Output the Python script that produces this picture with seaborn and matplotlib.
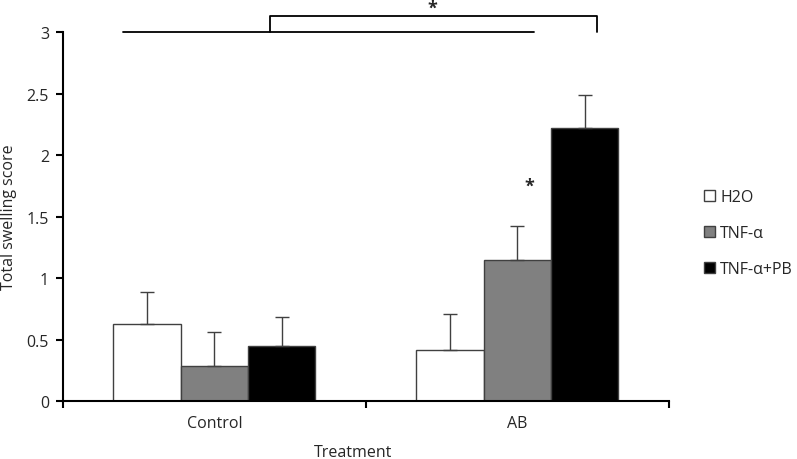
import pandas as pd
import matplotlib.pyplot as plt
import seaborn as sns

# Data
treatments = ['Control', 'AB']
groups = ['H2O', 'TNF-α', 'TNF-α+PB']
h2o_mean = [0.625, 0.415]
tnf_mean = [0.285, 1.145]
tnfpb_mean = [0.445, 2.22]
h2o_err = [0.26, 0.295]
tnf_err = [0.275, 0.275]
tnfpb_err = [0.24, 0.27]

means = [h2o_mean, tnf_mean, tnfpb_mean]
errs = [h2o_err, tnf_err, tnfpb_err]
rows = []
for g, m_list, e_list in zip(groups, means, errs):
    for t, m, e in zip(treatments, m_list, e_list):
        rows.append({'Treatment': t, 'Group': g, 'Score': m, 'Err': e})
df = pd.DataFrame(rows)

sns.set_style('white')
plt.rcParams['font.family'] = ['Open Sans', 'DejaVu Sans']
FS = 11.5

fig = plt.figure(figsize=(7.97, 4.60), dpi=100, facecolor='white')
ax = fig.add_axes([0.079, 0.126, 0.760, 0.802])

palette = {'H2O': 'white', 'TNF-α': '#808080', 'TNF-α+PB': 'black'}
sns.barplot(
    data=df, x='Treatment', y='Score', hue='Group',
    order=treatments, hue_order=groups, palette=palette,
    width=0.667, errorbar=None, edgecolor='#404040', linewidth=1.0,
    ax=ax
)

# Error bars (upper only) at the centres of the drawn bars
bars = [p for p in ax.patches if p.get_height() > 0][:len(df)]
for p in bars:
    xc = p.get_x() + p.get_width() / 2
    h = p.get_height()
    r = df[(df['Score'] - h).abs() < 1e-9].iloc[0]
    ax.errorbar(xc, h, yerr=[[0], [r['Err']]], color='#404040',
                elinewidth=1.0, capsize=5, capthick=1.0, zorder=3)

ax.set_xlim(-0.5, 1.5)
ax.set_ylim(0, 3)
ax.set_yticks([0, 0.5, 1, 1.5, 2, 2.5, 3])
ax.set_yticklabels(['0', '0.5', '1', '1.5', '2', '2.5', '3'])
ax.set_xticks([-0.5, 0.5, 1.5])
ax.set_xticklabels([])
ax.set_xticks([0, 1], minor=True)
ax.set_xticklabels(treatments, minor=True)
ax.tick_params(axis='x', which='major', direction='out', length=5, width=1.5,
               color='black', bottom=True)
ax.tick_params(axis='x', which='minor', length=0, pad=10, labelsize=FS)
ax.tick_params(axis='y', direction='out', length=5, width=1.5, color='black',
               left=True, labelsize=FS, pad=5)

for s in ['top', 'right']:
    ax.spines[s].set_visible(False)
for s in ['left', 'bottom']:
    ax.spines[s].set_color('black')
    ax.spines[s].set_linewidth(1.5)

ax.set_xlabel('Treatment', fontsize=FS)
ax.xaxis.set_label_coords(0.479, -0.117)
ax.set_ylabel('Total swelling score', fontsize=FS)
ax.yaxis.set_label_coords(-0.076, 0.5)

# Significance brackets
ax.plot([-0.302, 1.054], [3.0, 3.0], color='black', lw=1.3, clip_on=False)
ax.plot([0.183, 0.183, 1.262, 1.262], [3.0, 3.13, 3.13, 3.0],
        color='black', lw=1.3, clip_on=False)
ax.text(0.718, 3.2, '*', ha='center', va='center', fontsize=13,
        fontweight='bold', clip_on=False)
ax.text(1.041, 1.75, '*', ha='center', va='center', fontsize=13,
        fontweight='bold')

leg = ax.legend(loc='upper left', bbox_to_anchor=(1.043, 0.60), frameon=False,
                fontsize=FS, labelspacing=1.25, handlelength=0.7,
                handleheight=0.7, handletextpad=0.3, borderaxespad=0.2)
for h in leg.legend_handles:
    h.set_edgecolor('#404040')
    h.set_linewidth(1.0)

plt.savefig('out.png', dpi=100, facecolor='white')
